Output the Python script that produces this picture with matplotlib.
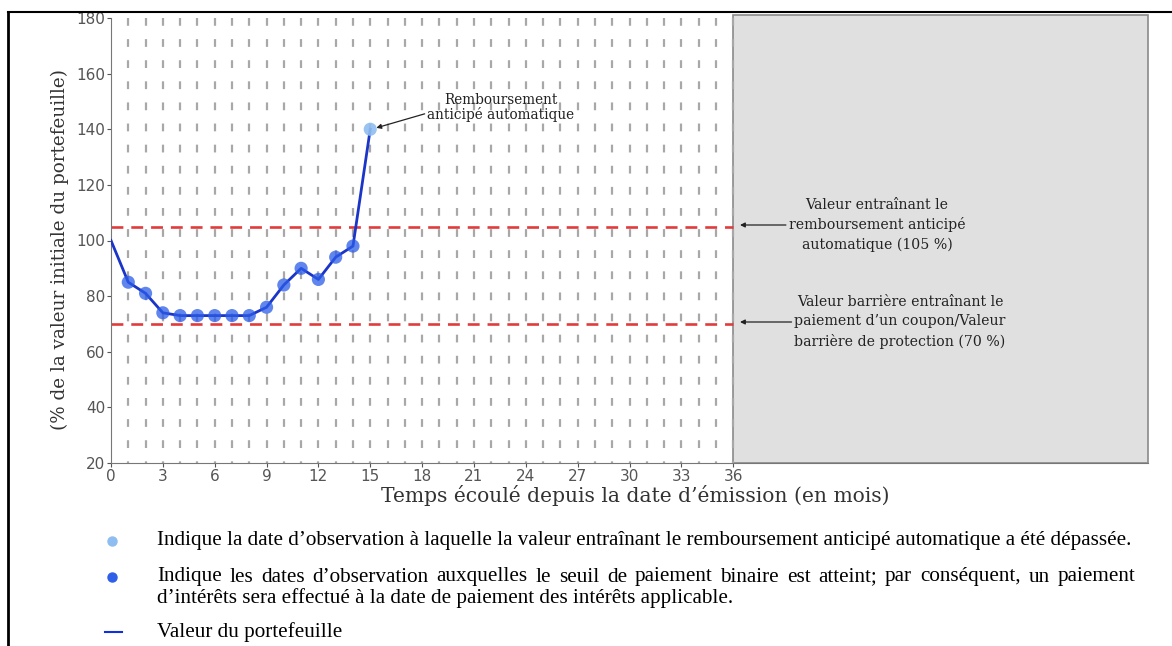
import matplotlib
matplotlib.use("Agg")
import matplotlib.pyplot as plt
import numpy as np

# donnees
mois = [0, 1, 2, 3, 4, 5, 6, 7, 8, 9, 10, 11, 12, 13, 14, 15]
valeur = [100, 85, 81, 74, 73, 73, 73, 73, 73, 76, 84, 90, 86, 94, 98, 140]
mois_coupon = [1, 2, 3, 4, 5, 6, 7, 8, 9, 10, 11, 12, 13, 14]
mois_rappel = [15]
seuil_rappel = 105
seuil_barriere = 70
duree = 36
xticks = list(range(0, 37, 3))
yticks = list(range(20, 181, 20))

W, H = 1172, 646
fig = plt.figure(figsize=(W / 100, H / 100), dpi=100)

def px(x, y):
    return (x / W, 1 - y / H)

ax = fig.add_axes([111 / W, 1 - 463 / H, (1148 - 111) / W, (463 - 18) / H])
ax.set_xlim(0, 60)
ax.set_ylim(20, 180)

# zone grise apres l'echeance
ax.axvspan(duree, 60, ymin=0, ymax=1.007, facecolor="#e0e0e0", edgecolor="#8a8a8a",
           lw=1.2, clip_on=False, zorder=0)

# traits verticaux gris pour chaque mois
for m in range(1, duree + 1):
    ax.plot([m, m], [180, 20], color="#a8a8a8", lw=1.6, dashes=(3.5, 6.0), zorder=1)

# seuils
for s in (seuil_rappel, seuil_barriere):
    ax.plot([0, duree], [s, s], color="#e23b3b", lw=1.9, dashes=(4.5, 3.0), zorder=2)

ax.plot(mois, valeur, color="#1a35c8", lw=2, zorder=3)
vc = [valeur[mois.index(m)] for m in mois_coupon]
ax.scatter(mois_coupon, vc, s=90, color="#2b5ce8", alpha=0.75, edgecolor="none", zorder=4)
vr = [valeur[mois.index(m)] for m in mois_rappel]
ax.scatter(mois_rappel, vr, s=90, color="#8fbdf0", alpha=0.9, edgecolor="none", zorder=4)

ax.set_xticks(xticks)
ax.set_yticks(yticks)
ax.tick_params(labelsize=11, colors="#555555", length=3, width=0.8, pad=1)
for sp in ("top", "right"):
    ax.spines[sp].set_visible(False)
for sp in ("left", "bottom"):
    ax.spines[sp].set_color("#777777")

serif = "DejaVu Serif"
fig.text(*px(635, 496), "Temps écoulé depuis la date d\u2019émission (en mois)",
         ha="center", va="center", fontsize=14.6, family=serif, color="#333333")
fig.text(*px(60, 249), "(% de la valeur initiale du portefeuille)", ha="center", va="center",
         rotation=90, fontsize=13.2, family=serif, color="#333333")

# annotations
ax.annotate("Remboursement\nanticipé automatique", xy=(15.35, 140.5), xycoords="data",
            xytext=px(501, 108), textcoords="figure fraction", ha="center", va="center",
            fontsize=9.8, family=serif, color="#222222", linespacing=1.0,
            arrowprops=dict(arrowstyle="-|>", color="#222222", lw=0.9, mutation_scale=7,
                            shrinkA=0, shrinkB=0, relpos=(0.05, 0.4)))
ax.annotate("Valeur entraînant le\nremboursement anticipé\nautomatique (105 %)",
            xy=px(740, 225), xycoords="figure fraction",
            xytext=px(877, 225), textcoords="figure fraction", ha="center", va="center",
            fontsize=10.2, family=serif, color="#222222", linespacing=1.45,
            arrowprops=dict(arrowstyle="-|>", color="#222222", lw=0.9, mutation_scale=7,
                            shrinkA=0, shrinkB=0, relpos=(0.0, 0.5)))
ax.annotate("Valeur barrière entraînant le\npaiement d\u2019un coupon/Valeur\nbarrière de protection (70 %)",
            xy=px(740, 322), xycoords="figure fraction",
            xytext=px(900, 322), textcoords="figure fraction", ha="center", va="center",
            fontsize=10.2, family=serif, color="#222222", linespacing=1.45,
            arrowprops=dict(arrowstyle="-|>", color="#222222", lw=0.9, mutation_scale=7,
                            shrinkA=0, shrinkB=0, relpos=(0.0, 0.5)))

# cadre exterieur
fig.add_artist(plt.Line2D([8 / W, 1], [1 - 12 / H] * 2, color="black", lw=1.5))
fig.add_artist(plt.Line2D([8 / W] * 2, [0, 1 - 12 / H], color="black", lw=2))

# legende sous le graphique
tfont = dict(family="Liberation Serif", fontsize=15.2, color="black", va="center")
fig.add_artist(plt.Line2D([112 / W], [1 - 541 / H], marker="o", ms=6.5, color="#8fbdf0", lw=0))
fig.add_artist(plt.Line2D([112 / W], [1 - 577 / H], marker="o", ms=6.5, color="#2f5fe8", lw=0))
fig.add_artist(plt.Line2D([105 / W, 122 / W], [1 - 632 / H] * 2, color="#1030e0", lw=1.5))

fig.text(*px(157, 541), "Indique la date d\u2019observation à laquelle la valeur entraînant le "
         "remboursement anticipé automatique a été dépassée.", **tfont)

ligne = ("Indique les dates d\u2019observation auxquelles le seuil de paiement binaire est "
         "atteint; par conséquent, un paiement").split(" ")
fig.canvas.draw()
r = fig.canvas.get_renderer()
mots = [fig.text(0, 1 - 577 / H, m, **tfont) for m in ligne]
larg = [t.get_window_extent(r).width for t in mots]
x0, x1 = 157, 1135
esp = (x1 - x0 - sum(larg)) / (len(mots) - 1)
x = x0
for t, w in zip(mots, larg):
    t.set_x(x / W)
    x += w + esp

fig.text(*px(157, 598), "d\u2019intérêts sera effectué à la date de paiement des intérêts applicable.", **tfont)
fig.text(*px(157, 632), "Valeur du portefeuille", **tfont)

fig.savefig("out.png", dpi=100)
